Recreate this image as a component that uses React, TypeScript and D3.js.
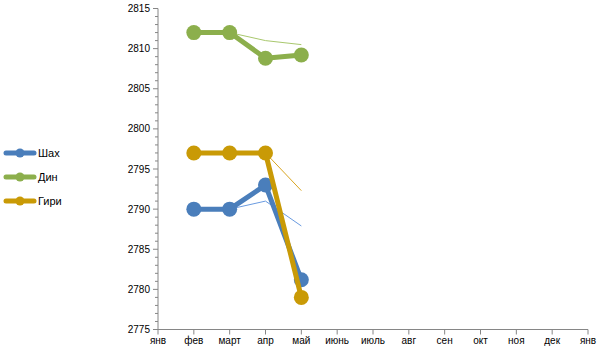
import React from "react";
import * as d3 from "d3";

const months = ["янв", "фев", "март", "апр", "май", "июнь", "июль", "авг", "сен", "окт", "ноя", "дек", "янв"];
const seriesNames = ["Шах", "Дин", "Гири"];
const pointMonths = [1, 2, 3, 4];
const shahValues = [2790, 2790, 2793, 2781.2];
const dingValues = [2812, 2812, 2808.8, 2809.2];
const giriValues = [2797, 2797, 2797, 2779];
const shahThin = [2790, 2790, 2791, 2787.9];
const dingThin = [2812, 2812, 2811, 2810.5];
const giriThin = [2797, 2797, 2797, 2792.3];
const yTicks = [2775, 2780, 2785, 2790, 2795, 2800, 2805, 2810, 2815];

const colors = ["#4A7EBB", "#8CAF4C", "#C99A06"];
const thinColors = ["#6A9BE0", "#A9C86E", "#D9A520"];

export default function App() {
  const W = 606, H = 361;
  const x = d3.scaleLinear().domain([0, 12]).range([158, 588]);
  const y = d3.scaleLinear().domain([2775, 2815]).range([329.5, 8.5]);
  const line = d3.line<[number, number]>().x((d) => x(d[0])).y((d) => y(d[1]));
  const thick = [shahValues, dingValues, giriValues];
  const thin = [shahThin, dingThin, giriThin];
  const minor = d3.range(2775, 2816, 1).filter((v) => v % 5 !== 0);
  const font = "'Liberation Sans', Arial, sans-serif";
  return (
    <div style={{ position: "fixed", left: 0, top: 0 }}>
      <svg width={W} height={H} style={{ display: "block", background: "#fff" }}>
        {/* y axis */}
        <line x1={158} x2={158} y1={y(2815)} y2={y(2775)} stroke="#868686" strokeWidth={1} />
        {yTicks.map((t) => (
          <g key={t}>
            <line x1={153} x2={158} y1={y(t)} y2={y(t)} stroke="#868686" />
            <text x={150} y={y(t) + 3.5} textAnchor="end" fontSize={10} fontFamily={font} fill="#000">
              {t}
            </text>
          </g>
        ))}
        {minor.map((t) => (
          <line key={t} x1={155} x2={158} y1={y(t)} y2={y(t)} stroke="#868686" />
        ))}
        {/* x axis */}
        <line x1={x(0)} x2={x(12)} y1={y(2775)} y2={y(2775)} stroke="#868686" />
        {months.map((m, i) => (
          <g key={i}>
            <line x1={x(i)} x2={x(i)} y1={y(2775)} y2={y(2775) + 5} stroke="#868686" />
            <text x={x(i)} y={344} textAnchor="middle" fontSize={10} fontFamily={font} fill="#000">
              {m}
            </text>
          </g>
        ))}
        {/* thin lines */}
        {thin.map((vals, si) => (
          <path
            key={"t" + si}
            d={line(vals.map((v, i) => [pointMonths[i], v] as [number, number])) || ""}
            fill="none"
            stroke={thinColors[si]}
            strokeWidth={1}
          />
        ))}
        {/* thick lines */}
        {thick.map((vals, si) => (
          <g key={"s" + si}>
            <path
              d={line(vals.map((v, i) => [pointMonths[i], v] as [number, number])) || ""}
              fill="none"
              stroke={colors[si]}
              strokeWidth={5}
              strokeLinejoin="round"
            />
            {vals.map((v, i) => (
              <circle key={i} cx={x(pointMonths[i])} cy={y(v)} r={7.5} fill={colors[si]} />
            ))}
          </g>
        ))}
        {/* legend */}
        {seriesNames.map((n, i) => (
          <g key={n} transform={`translate(0, ${153 + i * 24})`}>
            <line x1={6} x2={34} y1={0} y2={0} stroke={colors[i]} strokeWidth={5} strokeLinecap="round" />
            <circle cx={20} cy={0} r={4.5} fill={colors[i]} />
            <text x={38} y={4} fontSize={11} fontFamily={font} fill="#000">
              {n}
            </text>
          </g>
        ))}
      </svg>
    </div>
  );
}
